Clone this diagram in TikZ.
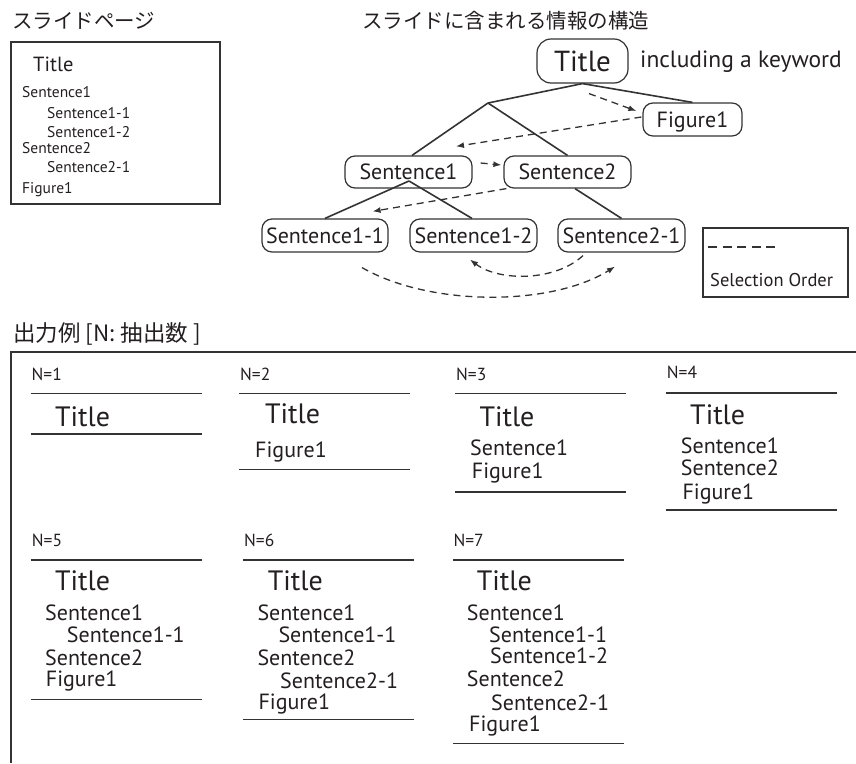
\documentclass[tikz,border=0pt]{standalone}
\usepackage{fontspec}
\setmainfont{PT Sans}
\newfontfamily\jpfont{Noto Sans CJK JP}
\usetikzlibrary{arrows.meta,calc}
\definecolor{textc}{HTML}{231F20}
\definecolor{linec}{HTML}{333333}
\newcommand{\fsz}[1]{\fontsize{#1}{#1}\selectfont}
\begin{document}
\begin{tikzpicture}[x=1pt,y=-1pt,
  txt/.style={anchor=base west, inner sep=0pt, text=textc},
  jp/.style={txt, font=\jpfont\fsz{#1}},
  slidetxt/.style={txt, font=\fsz{15.5}},
  nlab/.style={txt, font=\fsz{17.5}},
  ptitle/.style={txt, font=\fsz{28}},
  pline/.style={txt, font=\fsz{22}},
  rbox/.style={draw=linec, line width=1.2pt, rounded corners=10pt, fill=white,
    inner sep=0pt, minimum width=127pt, minimum height=33pt, text=textc,
    font=\fsz{22}, text height=15pt, text depth=0pt},
  tree/.style={line width=1.6pt, draw=linec},
  sel/.style={line width=1.3pt, draw=linec, dash pattern=on 7pt off 5pt,
    -{Latex[length=8pt,width=6pt]}},
  rulel/.style={line width=1.6pt, draw=linec},
  frame/.style={line width=1.6pt, draw=linec}
]
\useasboundingbox (0,0) rectangle (856,763);

% ---------- slide page ----------
\node[jp=20.5] (h1) at (12,28.5) {スライドページ};
\draw[frame] (11,42) rectangle (220,204);
\node[txt, font=\fsz{20.5}] (sT) at (33,71.7) {Title};
\node[slidetxt] (sS1) at (22,97) {Sentence1};
\node[slidetxt] (sS11) at (47,118) {Sentence1-1};
\node[slidetxt] (sS12) at (47,137) {Sentence1-2};
\node[slidetxt] (sS2) at (22,153) {Sentence2};
\node[slidetxt] (sS21) at (47,172) {Sentence2-1};
\node[slidetxt] (sF) at (22,193) {Figure1};

% ---------- structure ----------
\node[jp=20.5] (h2) at (362,28.5) {スライドに含まれる情報の構造};
\node[rbox, minimum width=91pt, minimum height=44pt, rounded corners=14pt,
  font=\fsz{29}, text height=20pt] (title) at (582.5,61) {Title};
\node[txt, font=\fsz{23.5}] (kw) at (640,67.3) {including a keyword};
\node[rbox, minimum width=99pt] (fig) at (692.5,119.5) {Figure1};
\node[rbox, minimum height=32pt] (s1) at (408.5,172) {Sentence1};
\node[rbox, minimum height=32pt] (s2) at (567.5,172) {Sentence2};
\node[rbox, minimum width=126pt] (s11) at (325,235.5) {Sentence1-1};
\node[rbox] (s12) at (473.5,235.5) {Sentence1-2};
\node[rbox] (s21) at (621.5,235.5) {Sentence2-1};
\coordinate (br) at (488,103);
\coordinate (s1in) at (409,181);

\draw[tree] (title.south) -- (br);
\draw[tree] (title.south) -- (fig.north);
\draw[tree] (br) -- ($(s1.north)+(3.5,0)$);
\draw[tree] (br) -- (s2.north);
\draw[tree] (s1in) -- (s11.north);
\draw[tree] (s1in) -- ($(s12.north)+(-1.5,0)$);
\draw[tree] ($(s2.south)+(7.5,0)$) -- (s21.north);

% selection order arrows
\draw[sel] ($(title.south)+(6.5,10)$) -- ($(fig.west)+(-6,-8.5)$);
\draw[sel] ($(fig.west)+(-1,-2.5)$) -- ($(s1.north)+(47.5,-9)$);
\draw[sel] ($(s1.east)+(8,-9)$) -- ($(s2.west)+(-2,-7)$);
\draw[sel] ($(s2.south west)+(3,0)$) -- ($(s11.north east)+(-16,-7)$);
\draw[sel] ($(s11.south)+(37,15)$) .. controls +(68,39) and +(-64,40) .. ($(s21.south)+(-6.5,14)$);
\draw[sel] ($(s21.south)+(-38.5,3)$) .. controls +(-28,26) and +(29,22) .. ($(s12.south)+(-3.5,7)$);

% legend
\draw[frame, line width=1.4pt] (703,228) rectangle (848,297);
\coordinate (lg1) at (708,247);
\coordinate (lg2) at (776,247);
\draw[line width=1.3pt, draw=linec, dash pattern=on 9pt off 5.5pt] (lg1) -- (lg2);
\node[txt, font=\fsz{18.5}] (lgt) at (710,286) {Selection Order};

% ---------- output examples ----------
\node[jp=22.5] (h3) at (13,341.5) {出力例 [N: 抽出数 ]};
\draw[frame, line width=1.8pt] (856,352.3) -- (11,352.3) -- (11,763);

% N=1
\node[nlab] (a0) at (31.5,380) {N=1};
\draw[rulel] (30.7,393.3) -- (201.7,393.3);
\node[ptitle] (a1) at (55,426) {Title};
\draw[rulel] (30.7,434) -- (201.7,434);

% N=2
\node[nlab] (b0) at (240,380) {N=2};
\draw[rulel] (239.3,393.3) -- (410,393.3);
\node[ptitle] (b1) at (265,423) {Title};
\node[pline] (b2) at (255,457) {Figure1};
\draw[rulel] (239.3,469.3) -- (410,469.3);

% N=3
\node[nlab] (c0) at (456,380) {N=3};
\draw[rulel] (455,393.3) -- (626,393.3);
\node[ptitle] (c1) at (479.3,426) {Title};
\node[pline] (c2) at (470,455.7) {Sentence1};
\node[pline] (c3) at (471.7,478.3) {Figure1};
\draw[rulel] (455,491.7) -- (626,491.7);

% N=4
\node[nlab] (d0) at (666.7,378.3) {N=4};
\draw[rulel] (665.7,392.7) -- (836.7,392.7);
\node[ptitle] (d1) at (690,424) {Title};
\node[pline] (d2) at (680.7,453.3) {Sentence1};
\node[pline] (d3) at (680.7,475.7) {Sentence2};
\node[pline] (d4) at (682.3,499) {Figure1};
\draw[rulel] (665.7,510) -- (836.7,510);

% N=5
\node[nlab] (e0) at (31.7,546) {N=5};
\draw[rulel] (30.7,560) -- (201.7,560);
\node[ptitle] (e1) at (55,590.7) {Title};
\node[pline] (e2) at (45,620) {Sentence1};
\node[pline] (e3) at (66.7,642.7) {Sentence1-1};
\node[pline] (e4) at (45,665) {Sentence2};
\node[pline] (e5) at (45.7,686.7) {Figure1};
\draw[rulel] (30.7,699.3) -- (201.7,699.3);

% N=6
\node[nlab] (f0) at (244,546) {N=6};
\draw[rulel] (243.3,560) -- (414,560);
\node[ptitle] (f1) at (267.7,590.7) {Title};
\node[pline] (f2) at (257.3,620) {Sentence1};
\node[pline] (f3) at (278.3,642.7) {Sentence1-1};
\node[pline] (f4) at (257.3,665) {Sentence2};
\node[pline] (f5) at (280,688.3) {Sentence2-1};
\node[pline] (f6) at (258.3,709.3) {Figure1};
\draw[rulel] (243.3,719.3) -- (414,719.3);

% N=7
\node[nlab] (g0) at (453.3,546) {N=7};
\draw[rulel] (453.3,560) -- (624.3,560);
\node[ptitle] (g1) at (476.7,590.7) {Title};
\node[pline] (g2) at (466.7,620) {Sentence1};
\node[pline] (g3) at (489,642.3) {Sentence1-1};
\node[pline] (g4) at (490,663.3) {Sentence1-2};
\node[pline] (g5) at (466.7,686.7) {Sentence2};
\node[pline] (g6) at (491,710.7) {Sentence2-1};
\node[pline] (g7) at (469,731) {Figure1};
\draw[rulel] (453.3,743.3) -- (624.3,743.3);
\end{tikzpicture}
\end{document}
